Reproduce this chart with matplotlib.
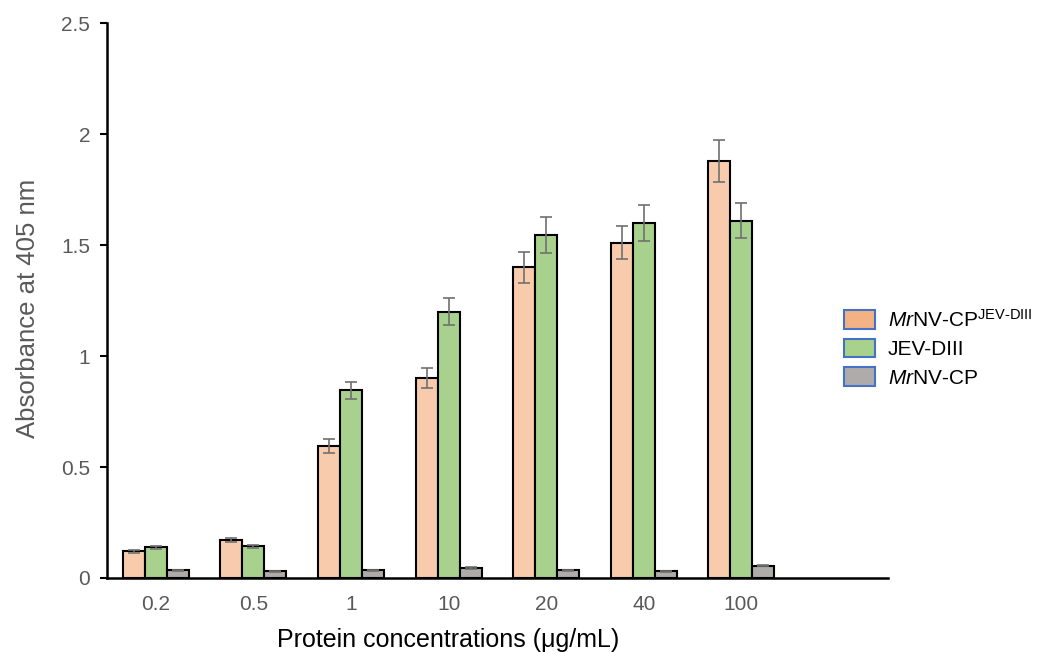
import matplotlib
matplotlib.use("Agg")
import numpy as np
import matplotlib.pyplot as plt
from matplotlib.patches import Patch

plt.rcParams['font.family'] = ['Liberation Sans', 'DejaVu Sans']
plt.rcParams['mathtext.fontset'] = 'custom'
plt.rcParams['mathtext.rm'] = 'Liberation Sans'
plt.rcParams['mathtext.it'] = 'Liberation Sans:italic'

concentrations = ['0.2', '0.5', '1', '10', '20', '40', '100']
mrnv_jev = [0.12, 0.17, 0.595, 0.90, 1.40, 1.51, 1.88]
mrnv_jev_err = [0.007, 0.008, 0.03, 0.045, 0.07, 0.075, 0.095]
jev_diii = [0.138, 0.142, 0.845, 1.20, 1.545, 1.60, 1.61]
jev_diii_err = [0.006, 0.005, 0.04, 0.06, 0.08, 0.08, 0.08]
mrnv_cp = [0.035, 0.030, 0.035, 0.045, 0.035, 0.030, 0.055]
mrnv_cp_err = [0.002, 0.002, 0.002, 0.003, 0.002, 0.002, 0.003]

series_labels = [r'$\it{Mr}$NV-CP$^{\mathrm{JEV\text{-}DIII}}$', 'JEV-DIII', r'$\it{Mr}$NV-CP']
bar_colors = ['#F8CBAD', '#A9D18E', '#AFABAB']
legend_colors = ['#F4B183', '#A9D18E', '#AFABAB']

fig = plt.figure(figsize=(10.49, 6.52), dpi=100)
ax = fig.add_axes([0.102, 0.1135, 0.7443, 0.8512])

x = np.arange(len(concentrations))
w = 0.226
err_kw = dict(ecolor='#707070', elinewidth=1.2, capsize=4, capthick=1.2)
for i, (vals, errs) in enumerate([(mrnv_jev, mrnv_jev_err), (jev_diii, jev_diii_err), (mrnv_cp, mrnv_cp_err)]):
    ax.bar(x + (i - 1) * w, vals, w, yerr=errs, color=bar_colors[i], edgecolor='black',
           linewidth=1.5, error_kw=err_kw, zorder=2)

ax.set_xlim(-0.5, 7.5)
ax.set_ylim(0, 2.5)
ax.set_yticks([0, 0.5, 1, 1.5, 2, 2.5])
ax.set_yticklabels(['0', '0.5', '1', '1.5', '2', '2.5'])
ax.set_xticks(x)
ax.set_xticklabels(concentrations)
ax.tick_params(axis='y', length=5, width=1.5, colors='black', labelcolor='#595959', labelsize=15, pad=7)
ax.tick_params(axis='x', length=0, labelcolor='#595959', labelsize=15, pad=12)

for s in ['top', 'right']:
    ax.spines[s].set_visible(False)
for s in ['left', 'bottom']:
    ax.spines[s].set_linewidth(1.8)

ax.set_ylabel('Absorbance at 405 nm', fontsize=18.5, color='#595959')
ax.yaxis.set_label_coords(-0.086, 0.486)
ax.set_xlabel('Protein concentrations (\u03bcg/mL)', fontsize=18, color='black')
ax.xaxis.set_label_coords(3.5 / 8, -0.09)

handles = [Patch(facecolor=c, edgecolor='#4472C4', linewidth=1.5) for c in legend_colors]
fig.legend(handles, series_labels, loc='center left', bbox_to_anchor=(0.787, 0.466),
           frameon=False, fontsize=15, handlelength=1.45, handleheight=1.0,
           labelspacing=0.4, handletextpad=0.65)

fig.savefig('out.png', dpi=100)
